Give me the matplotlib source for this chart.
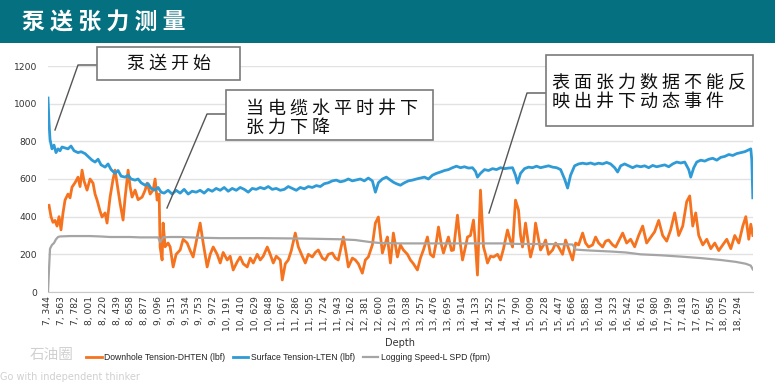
import matplotlib
matplotlib.use("Agg")
import matplotlib.pyplot as plt
from matplotlib.patches import Rectangle
from matplotlib.lines import Line2D

# ---------------- data ----------------
downhole_depth = [7360, 7392, 7423, 7455, 7487, 7519, 7550, 7582, 7614, 7661, 7693, 7725, 7772, 7820, 7852,
                  7884, 7915, 7963, 8011, 8058, 8090, 8122, 8169, 8201, 8249, 8280, 8328, 8376, 8407, 8455,
                  8487, 8534, 8566, 8614, 8645, 8677, 8725, 8772, 8836, 8883, 8915, 8963, 9010, 9042, 9074,
                  9106, 9121, 9153, 9169, 9201, 9248, 9280, 9328, 9375, 9439, 9486, 9550, 9598, 9645, 9709,
                  9756, 9804, 9867, 9915, 9963, 10026, 10074, 10121, 10185, 10232, 10280, 10343, 10391, 10439,
                  10502, 10550, 10598, 10661, 10709, 10756, 10820, 10867, 10915, 10963, 11026, 11058, 11106,
                  11153, 11201, 11264, 11312, 11375, 11423, 11471, 11534, 11582, 11629, 11693, 11740, 11788,
                  11851, 11899, 11946, 12026, 12074, 12105, 12169, 12216, 12264, 12327, 12375, 12422, 12486,
                  12534, 12581, 12613, 12645, 12692, 12724, 12772, 12819, 12883, 12930, 12978, 13042, 13089,
                  13137, 13200, 13248, 13295, 13359, 13406, 13454, 13502, 13534, 13581, 13613, 13661, 13692,
                  13740, 13772, 13835, 13883, 13915, 13962, 13994, 14041, 14089, 14121, 14152, 14200, 14248,
                  14280, 14311, 14359, 14406, 14470, 14517, 14565, 14628, 14676, 14708, 14755, 14803, 14835,
                  14866, 14914, 14962, 14993, 15041, 15073, 15120, 15152, 15200, 15232, 15279, 15343, 15391,
                  15438, 15501, 15549, 15597, 15660, 15708, 15756, 15819, 15866, 15914, 15977, 16025, 16073,
                  16136, 16184, 16232, 16295, 16343, 16390, 16454, 16517, 16580, 16644, 16707, 16771, 16834,
                  16898, 16961, 17025, 17088, 17152, 17215, 17279, 17342, 17406, 17469, 17517, 17565, 17612,
                  17660, 17724, 17787, 17851, 17914, 17977, 18041, 18104, 18168, 18231, 18295, 18358, 18406,
                  18453, 18485, 18517]
downhole_tension = [460, 400, 370, 380, 350, 400, 330, 420, 488, 520, 500, 557, 580, 610, 560,
                    647, 590, 541, 600, 578, 520, 488, 430, 398, 420, 366, 504, 600, 647, 541,
                    470, 382, 500, 647, 560, 504, 541, 490, 504, 540, 578, 520, 541, 600, 488,
                    520, 239, 170, 366, 240, 260, 240, 133, 200, 223, 280, 260, 220, 186, 292,
                    366, 260, 133, 200, 239, 200, 154, 210, 170, 190, 117, 160, 186, 150,
                    133, 180, 154, 200, 170, 190, 239, 200, 154, 190, 170, 64, 150,
                    170, 220, 313, 240, 190, 154, 200, 186, 210, 223, 180, 170, 200,
                    207, 180, 170, 292, 200, 133, 180, 170, 150, 100, 170, 186, 250,
                    366, 398, 300, 207, 260, 292, 154, 313, 186, 250, 223, 200, 170,
                    150, 117, 180, 223, 292, 200, 186, 270, 345, 250, 207, 260, 292,
                    220, 223, 408, 250, 170, 240, 292, 300, 382, 250, 90, 541, 239,
                    200, 154, 190, 186, 200, 170, 230, 329, 270, 239, 488, 435, 300,
                    239, 366, 250, 186, 250, 366, 280, 223, 250, 276, 200, 223, 260,
                    239, 200, 276, 230, 170, 260, 250, 313, 260, 239, 250, 292, 260,
                    239, 270, 276, 250, 239, 270, 313, 260, 280, 240, 300, 350, 260,
                    290, 320, 380, 300, 270, 330, 420, 300, 350, 480, 510, 350, 420,
                    300, 250, 280, 230, 260, 220, 250, 280, 230, 300, 260, 350, 400,
                    280, 360, 300]

surface_depth = [7344, 7360, 7376, 7407, 7439, 7471, 7503, 7534, 7566, 7614, 7661, 7709, 7757, 7820, 7868,
                 7931, 7979, 8042, 8090, 8138, 8185, 8249, 8296, 8344, 8407, 8455, 8503, 8566, 8614, 8661,
                 8725, 8772, 8820, 8883, 8931, 8979, 9042, 9090, 9137, 9185, 9248, 9312, 9375, 9439, 9502,
                 9566, 9629, 9693, 9756, 9820, 9883, 9947, 10010, 10074, 10137, 10201, 10264, 10328, 10391,
                 10455, 10518, 10582, 10645, 10709, 10772, 10836, 10899, 10963, 11026, 11090, 11153, 11217,
                 11280, 11343, 11407, 11471, 11534, 11597, 11661, 11724, 11788, 11851, 11915, 11978, 12042,
                 12105, 12169, 12232, 12295, 12359, 12422, 12486, 12534, 12581, 12645, 12708, 12772, 12819,
                 12867, 12930, 12994, 13057, 13121, 13184, 13248, 13311, 13375, 13438, 13502, 13565, 13629,
                 13692, 13756, 13819, 13883, 13946, 14010, 14073, 14121, 14152, 14200, 14264, 14327, 14391,
                 14454, 14517, 14581, 14644, 14708, 14755, 14787, 14835, 14898, 14962, 15025, 15089, 15152,
                 15216, 15279, 15343, 15406, 15470, 15533, 15581, 15628, 15692, 15756, 15819, 15882, 15946,
                 16009, 16073, 16136, 16200, 16263, 16327, 16374, 16422, 16485, 16549, 16612, 16676, 16739,
                 16803, 16866, 16930, 16993, 17057, 17120, 17184, 17247, 17311, 17374, 17438, 17501, 17533,
                 17581, 17628, 17692, 17755, 17819, 17882, 17946, 18009, 18073, 18136, 18200, 18263, 18327,
                 18390, 18453, 18485, 18501, 18517]
surface_tension = [1030, 900, 810, 760, 780, 740, 760, 750, 770, 765, 760, 775, 750, 740, 745,
                   735, 720, 700, 690, 705, 675, 663, 680, 650, 630, 645, 615, 610, 620, 600,
                   594, 600, 580, 567, 575, 550, 541, 555, 530, 525, 540, 520, 540, 525, 545,
                   520, 535, 530, 540, 525, 545, 535, 550, 540, 555, 535, 550, 540, 555,
                   545, 530, 550, 545, 555, 548, 560, 545, 550, 540, 545, 560, 550,
                   540, 555, 548, 560, 555, 565, 560, 575, 580, 590, 594, 585, 590,
                   600, 590, 595, 600, 590, 605, 590, 530, 580, 600, 610, 594, 583,
                   575, 567, 580, 590, 594, 600, 605, 610, 600, 620, 630, 637, 645,
                   650, 660, 668, 660, 665, 658, 660, 640, 610, 630, 650, 645, 655,
                   650, 660, 655, 658, 660, 620, 578, 630, 655, 663, 660, 668, 660,
                   665, 670, 663, 660, 650, 600, 552, 620, 670, 680, 684, 680, 685,
                   678, 684, 680, 688, 680, 660, 637, 670, 680, 670, 660, 670, 665,
                   670, 660, 672, 665, 670, 675, 665, 680, 690, 685, 690, 650, 610,
                   660, 690, 700, 695, 705, 710, 700, 715, 720, 730, 725, 735, 740,
                   745, 755, 760, 700, 500]

speed_depth = [7344, 7360, 7376, 7407, 7439, 7471, 7503, 7534, 7693, 7852, 8011, 8169, 8328, 8487, 8645,
               8804, 8963, 9090, 9121, 9169, 9280, 9439, 9598, 9756, 10074, 10391, 10709, 11026, 11343,
               11661, 11978, 12216, 12454, 12613, 12930, 13248, 13565, 13883, 14200, 14517, 14835, 15152,
               15470, 15660, 15708, 15946, 16263, 16501, 16739, 17057, 17374, 17692, 18009, 18247, 18406,
               18485, 18517]
logging_speed = [0, 120, 230, 250, 260, 280, 292, 295, 297, 297, 297, 295, 292, 292, 292,
                 290, 290, 290, 265, 290, 292, 292, 290, 288, 286, 286, 286, 285, 284,
                 282, 280, 276, 265, 260, 258, 258, 258, 258, 258, 258, 255, 255,
                 254, 252, 225, 220, 215, 210, 200, 195, 188, 180, 170, 160, 150,
                 140, 120]

tick_labels = ["7, 344", "7, 563", "7, 782", "8, 001", "8, 220", "8, 439", "8, 658", "8, 877", "9, 096",
               "9, 315", "9, 534", "9, 753", "9, 972", "10, 191", "10, 410", "10, 629", "10, 848", "11, 067",
               "11, 286", "11, 505", "11, 724", "11, 943", "12, 162", "12, 381", "12, 600", "12, 819",
               "13, 038", "13, 257", "13, 476", "13, 695", "13, 914", "14, 133", "14, 352", "14, 571",
               "14, 790", "15, 009", "15, 228", "15, 447", "15, 666", "15, 885", "16, 104", "16, 323",
               "16, 542", "16, 761", "16, 980", "17, 199", "17, 418", "17, 637", "17, 856", "18, 075",
               "18, 294"]
tick_depths = [int(s.replace(",", "").replace(" ", "")) for s in tick_labels]

series_names = ["Downhole Tension-DHTEN (lbf)", "Surface Tension-LTEN (lbf)", "Logging Speed-L SPD (fpm)"]
title = "泵 送 张 力 测 量"
callout_texts = ["泵 送 开 始", "当 电 缆 水 平 时 井 下\n张 力 下 降", "表 面 张 力 数 据 不 能 反\n映 出 井 下 动 态 事 件"]

# ---------------- figure ----------------
W, H = 775, 388
fig = plt.figure(figsize=(W / 100, H / 100), dpi=100)
fig.patch.set_facecolor("white")
CJK = ["Noto Sans CJK SC", "DejaVu Sans"]


def fx(x):
    return x / W


def fy(y):
    return 1 - y / H


fig.patches.append(Rectangle((0, fy(43)), 1, 43 / H, transform=fig.transFigure,
                             facecolor="#05707f", edgecolor="none", zorder=-1))
fig.text(fx(22), fy(23), title, color="white", fontsize=16.5, fontweight="bold",
         family=CJK, va="center", ha="left")

ax = fig.add_axes([fx(48), fy(292), fx(753) - fx(48), (292 - 66) / H])
c_orange, c_blue, c_gray = "#f5731f", "#2e9ad6", "#a5a5a5"
ax.plot(downhole_depth, downhole_tension, color=c_orange, lw=2.0, label=series_names[0], zorder=3)
ax.plot(surface_depth, surface_tension, color=c_blue, lw=2.0, label=series_names[1], zorder=4)
ax.plot(speed_depth, logging_speed, color=c_gray, lw=1.6, label=series_names[2], zorder=5)

ax.set_xlim(7344, 18520)
ax.set_ylim(0, 1200)
ax.set_yticks([0, 200, 400, 600, 800, 1000, 1200])
ax.yaxis.grid(True, color="#e2e2e2", lw=1)
ax.set_axisbelow(True)
for s in ["top", "right", "left"]:
    ax.spines[s].set_visible(False)
ax.spines["bottom"].set_color("#c8c8c8")
ax.set_xticks(tick_depths)
ax.set_xticklabels(tick_labels, rotation=90, fontsize=6.6, color="#333333")
ax.tick_params(axis="both", length=0)
ax.tick_params(axis="x", pad=3)
ax.tick_params(axis="y", pad=8, labelsize=6.6, labelcolor="#333333")

fig.text(fx(400), fy(343), "Depth", fontsize=7, color="#333333", ha="center", va="center")
leg = ax.legend(loc="center left", bbox_to_anchor=(fx(86), fy(358)), bbox_transform=fig.transFigure,
                ncol=3, frameon=False, prop={"family": "Liberation Sans", "size": 6.2},
                handlelength=1.8, handletextpad=0.3, columnspacing=0.9, borderpad=0, borderaxespad=0)
for t in leg.get_texts():
    t.set_color("#222222")

# watermark
fig.text(fx(30), fy(355), "石油圈", fontsize=10.5, color="#d0d0d0", family=CJK, va="center")
fig.text(fx(0), fy(377), "Go with independent thinker", fontsize=7, color="#d0d0d0", va="center")

# callouts
boxes = [(97, 47, 240, 80), (226, 90, 433, 140), (546, 55, 753, 126)]
leaders = [[(97, 65), (78, 65), (55, 130)],
           [(226, 114), (207, 114), (167, 208)],
           [(546, 93), (527, 93), (489, 213)]]
for (x0, y0, x1, y1) in boxes:
    fig.patches.append(Rectangle((fx(x0), fy(y1)), (x1 - x0) / W, (y1 - y0) / H,
                                 transform=fig.transFigure, facecolor="white",
                                 edgecolor="#7a7a7a", lw=1.2, zorder=6))
for pts in leaders:
    fig.lines.append(Line2D([fx(p[0]) for p in pts], [fy(p[1]) for p in pts],
                            transform=fig.transFigure, color="#555555", lw=1, zorder=5))
fig.text(fx(169), fy(64), callout_texts[0], fontsize=13, family=CJK, color="#111111",
         ha="center", va="center", zorder=7)
fig.text(fx(246), fy(118), callout_texts[1], fontsize=13, family=CJK, color="#111111",
         ha="left", va="center", linespacing=1.1, zorder=7)
fig.text(fx(552), fy(93), callout_texts[2], fontsize=13, family=CJK, color="#111111",
         ha="left", va="center", linespacing=1.1, zorder=7)

fig.savefig("out.png", dpi=100)
